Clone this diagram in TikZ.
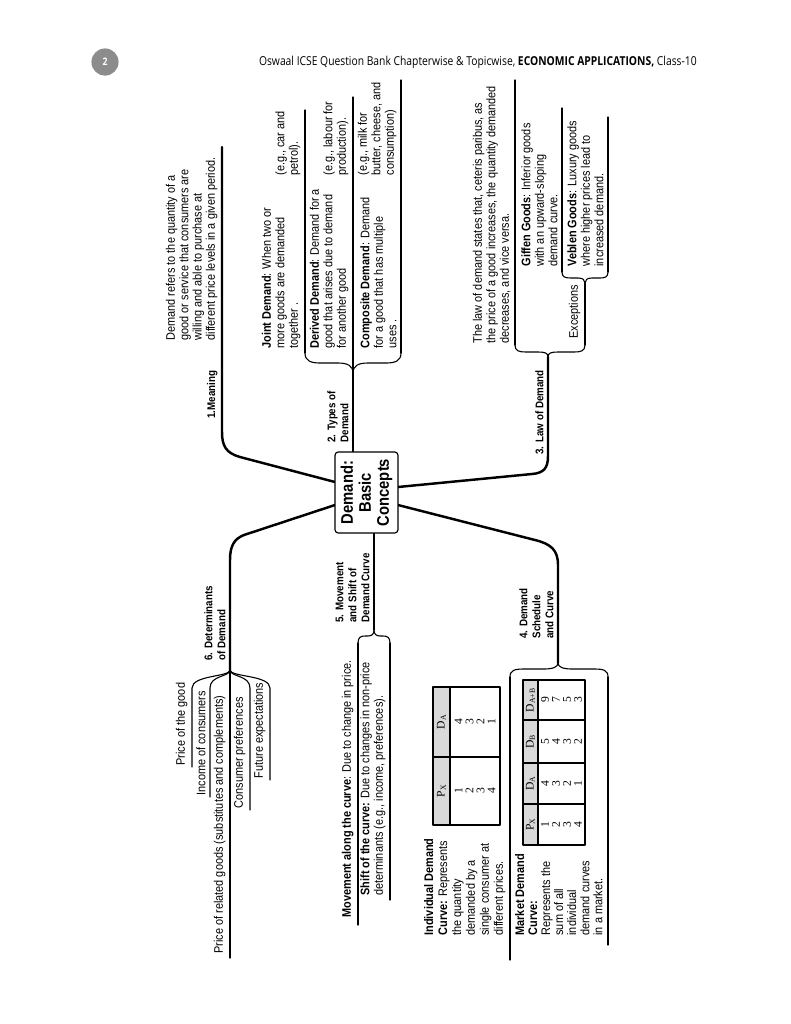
\documentclass[tikz,border=0pt]{standalone}
\usepackage{fontspec}
\setmainfont{Liberation Sans}[FakeStretch=0.88]
\newfontfamily\hdrfont{Open Sans}[FakeStretch=0.84]
\newfontfamily\tabfont{Liberation Serif}
\definecolor{numgrey}{HTML}{8C8C8C}
\definecolor{hdgrey}{HTML}{D9D9D9}
\begin{document}
\begin{tikzpicture}[x=0.7737pt,y=-0.7737pt,
  txt/.style={rotate=90,anchor=south west,inner sep=1pt,align=left,font=\fontsize{9.6}{10.4}\selectfont},
  lbl/.style={rotate=90,anchor=south west,inner sep=1pt,align=left,font=\bfseries\fontsize{8.6}{10}\selectfont},
  mainbr/.style={line width=1.9pt,line cap=round,line join=round},
  subln/.style={line width=0.85pt,line cap=round,line join=round},
  tabtxt/.style={rotate=90,inner sep=0pt,align=center,font=\tabfont\fontsize{9}{8.5}\selectfont},
]
\useasboundingbox (0,0) rectangle (791,1024);
\fill[white] (0,0) rectangle (791,1024);

% header
\node[circle, fill=numgrey, minimum size=21pt, inner sep=0pt, text=white, font=\hdrfont\bfseries\fontsize{8}{9}\selectfont] (pg) at (105,62) {2};
\node[anchor=east, inner sep=0pt, font=\hdrfont\fontsize{9.5}{10}\selectfont] (hdr) at (697,62) {Oswaal ICSE Question Bank Chapterwise \& Topicwise, \textbf{ECONOMIC APPLICATIONS,} Class-10};

% ---------- Branch 1: Meaning
\coordinate (b1s) at (335,482);
\coordinate (b1e) at (222,147);
\draw[mainbr] (b1s) -- (240,457) .. controls (226,453) and (222,446) .. (222,432) -- (b1e);
\node[txt, font=\fontsize{9.6}{10.3}\selectfont] (mean) at (219,342) {Demand refers to the quantity of a\\good or service that consumers are\\willing and able to purchase at\\different price levels in a given period.};
\node[lbl] (l1) at (219,420) {1.Meaning};

% ---------- Branch 2: Types
\coordinate (b2s) at (353,452);
\coordinate (t2) at (353,373);
\coordinate (a2a) at (305,353);
\coordinate (a2c) at (401,353);
\draw[subln] (b2s) -- (t2);
\draw[subln] (a2a) .. controls (305,361) and (311,363) .. (320,363) -- (338,363) .. controls (348,363) and (353,366) .. (t2) .. controls (353,366) and (358,363) .. (368,363) -- (386,363) .. controls (395,363) and (401,361) .. (a2c);
\draw[subln] (a2a) -- (305,110);
\draw[subln] (t2) -- (353,97);
\draw[subln] (a2c) -- (401,80);
\node[txt] (joint) at (302,350) {\textbf{Joint Demand}: When two or\\more goods are demanded\\together .};
\node[txt] (jointx) at (302,177) {(e.g., car and\\petrol).};
\node[txt] (deriv) at (350,350) {\textbf{Derived Demand}: Demand for a\\good that arises due to demand\\for another good};
\node[txt] (derivx) at (350,177) {(e.g., labour for\\production).};
\node[txt] (comp) at (398,350) {\textbf{Composite Demand}: Demand\\for a good that has multiple\\uses .};
\node[txt] (compx) at (398,177) {(e.g., milk for\\butter, cheese, and\\consumption)};
\node[lbl] (l2) at (350,444) {2. Types of\\Demand};

% ---------- Branch 3: Law of demand
\coordinate (b3s) at (398,487);
\coordinate (t3) at (548,357);
\coordinate (a3a) at (515,345);
\coordinate (a3b) at (585,345);
\coordinate (t3b) at (585,283);
\coordinate (a3c) at (562,272);
\coordinate (a3d) at (608,272);
\draw[mainbr] (b3s) -- (532,474) .. controls (544,473) and (548,468) .. (548,456) -- (t3);
\draw[subln] (a3a) .. controls (515,351) and (519,352) .. (526,352) -- (538,352) .. controls (545,352) and (548,353) .. (t3) .. controls (548,353) and (551,352) .. (558,352) -- (574,352) .. controls (581,352) and (585,351) .. (a3b);
\draw[subln] (a3a) -- (515,80);
\draw[subln] (a3b) -- (t3b);
\draw[subln] (a3c) .. controls (562,277) and (565,278) .. (571,278) -- (578,278) .. controls (583,278) and (585,280) .. (t3b) .. controls (585,280) and (587,278) .. (592,278) -- (600,278) .. controls (605,278) and (608,277) .. (a3d);
\draw[subln] (a3c) -- (562,108);
\draw[subln] (a3d) -- (608,117);
\node[txt] (law) at (512,345) {The law of demand states that, ceteris paribus, as\\the price of a good increases, the quantity demanded\\decreases, and vice versa.};
\node[lbl] (l3) at (545,456) {3. Law of Demand};
\node[txt] (exc) at (582,340) {Exceptions};
\node[txt] (giff) at (559,268) {\textbf{Giffen Goods}: Inferior goods\\with an upward-sloping\\demand curve.};
\node[txt] (vebl) at (605,268) {\textbf{Veblen Goods}: Luxury goods\\where higher prices lead to\\increased demand.};

% ---------- Branch 4: Schedule and curve
\coordinate (b4s) at (398,505);
\coordinate (t4) at (558,663);
\coordinate (a4a) at (510,677);
\coordinate (a4b) at (608,677);
\draw[mainbr] (b4s) -- (535,540) .. controls (551,544) and (558,550) .. (558,565) -- (t4);
\draw[subln] (a4a) .. controls (510,670) and (515,669) .. (524,669) -- (544,669) .. controls (553,669) and (558,667) .. (t4) .. controls (558,667) and (563,669) .. (572,669) -- (594,669) .. controls (603,669) and (608,670) .. (a4b);
\draw[subln] (a4a) -- (510,960);
\draw[subln] (a4b) -- (608,945);
\node[lbl] (l4) at (555,640) {4. Demand\\Schedule\\and Curve};
\node[txt, font=\fontsize{9.6}{10.8}\selectfont] (indiv) at (507,937) {\textbf{Individual Demand}\\\textbf{Curve:} Represents\\the quantity\\demanded by a\\single consumer at\\different prices.};
\node[txt, font=\fontsize{9.6}{10.1}\selectfont] (mkt) at (604,937) {\textbf{Market Demand}\\\textbf{Curve:}\\Represents the\\sum of all\\individual\\demand curves\\in a market.};
% individual table
\fill[hdgrey] (433,687) rectangle (450,825);
\draw[subln] (433,687) rectangle (500,825);
\draw[subln] (450,687) -- (450,825);
\draw[subln] (433,757) -- (500,757);
\node[tabtxt] (ih1) at (441.5,791) {P\textsubscript{X}};
\node[tabtxt] (ih2) at (441.5,722) {D\textsubscript{A}};
\node[tabtxt] (ib1) at (475,791) {1\\2\\3\\4};
\node[tabtxt] (ib2) at (475,722) {4\\3\\2\\1};
% market table
\fill[hdgrey] (523,680) rectangle (538,845);
\draw[subln] (523,680) rectangle (585,845);
\draw[subln] (538,680) -- (538,845);
\draw[subln] (523,720) -- (585,720);
\draw[subln] (523,763) -- (585,763);
\draw[subln] (523,804) -- (585,804);
\node[tabtxt] (mh1) at (530.5,824.5) {P\textsubscript{X}};
\node[tabtxt] (mh2) at (530.5,783.5) {D\textsubscript{A}};
\node[tabtxt] (mh3) at (530.5,741.5) {D\textsubscript{B}};
\node[tabtxt] (mh4) at (530.5,700) {D\textsubscript{A+B}};
\node[tabtxt] (mb1) at (561.5,824.5) {1\\2\\3\\4};
\node[tabtxt] (mb2) at (561.5,783.5) {4\\3\\2\\1};
\node[tabtxt] (mb3) at (561.5,741.5) {5\\4\\3\\2};
\node[tabtxt] (mb4) at (561.5,700) {9\\7\\5\\3};

% ---------- Branch 5: Movement and shift
\coordinate (b5s) at (374,533);
\coordinate (t5) at (374,630);
\coordinate (a5a) at (358,643);
\coordinate (a5b) at (390,643);
\draw[subln] (b5s) -- (t5);
\draw[subln] (a5a) .. controls (358,637) and (361,636) .. (365,636) -- (368,636) .. controls (372,636) and (374,634) .. (t5) .. controls (374,634) and (376,636) .. (380,636) -- (383,636) .. controls (387,636) and (390,637) .. (a5b);
\draw[subln] (a5a) -- (358,925);
\draw[subln] (a5b) -- (390,900);
\node[lbl] (l5) at (371,624) {5. Movement\\and Shift of\\Demand Curve};
\node[txt] (mov) at (355,919) {\textbf{Movement along the curve}: Due to change in price.};
\node[txt] (shift) at (387,897) {\textbf{Shift of the curve:} Due to changes in non-price\\determinants (e.g., income, preferences).};

% ---------- Branch 6: Determinants
\coordinate (b6s) at (335,505);
\coordinate (t6) at (230,670);
\draw[mainbr] (b6s) -- (244,535) .. controls (234,539) and (230,546) .. (230,560) -- (t6);
\foreach \xa/\ya in {192/767,210/797,250/810,270/780}{
  \draw[subln] (t6) .. controls (230,677) and (\xa,675) .. (\xa,688) -- (\xa,\ya);
}
\draw[subln] (t6) -- (230,958);
\node[txt] (d1) at (189,767) {Price of the good};
\node[txt] (d2) at (207,797) {Income of consumers};
\node[txt] (d3) at (227,955) {Price of related goods (substitutes and complements)};
\node[txt] (d4) at (247,810) {Consumer preferences};
\node[txt] (d5) at (267,780) {Future expectations};
\node[lbl] (l6) at (227,662) {6. Determinants\\of Demand};

% ---------- central node
\node[draw, line width=0.9pt, rounded corners=2.5pt, fill=white, rotate=90, minimum width=62.7pt, minimum height=48.7pt, align=center, inner sep=2pt, font=\bfseries\fontsize{13}{14}\selectfont] (core) at (366.5,492.5) {Demand:\\Basic\\Concepts};
\end{tikzpicture}
\end{document}
